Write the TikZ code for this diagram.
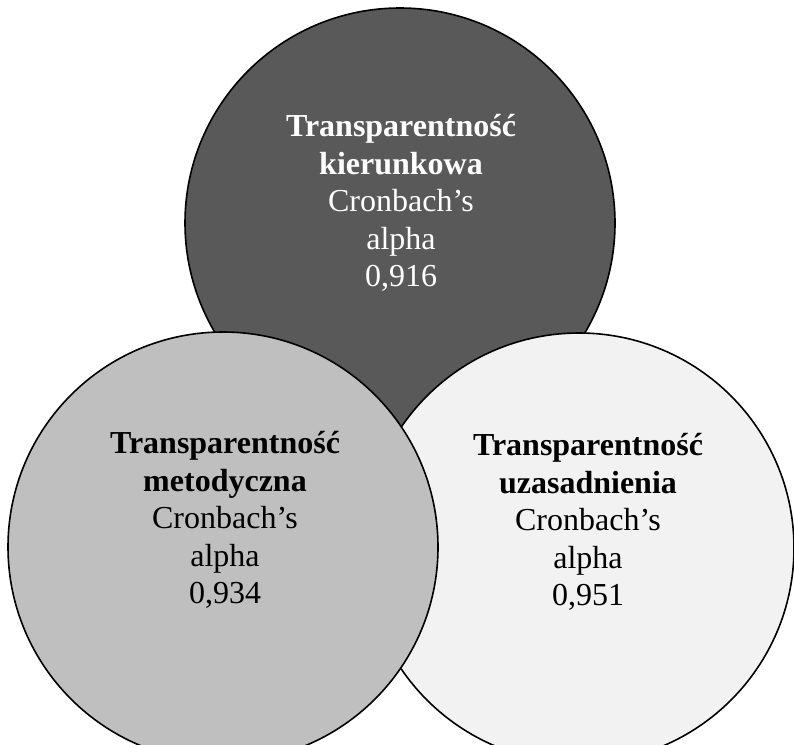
\documentclass[tikz,border=0pt]{standalone}
\usepackage{fontspec}
\setmainfont{Liberation Serif}
\definecolor{kiercol}{HTML}{595959}
\definecolor{metcol}{HTML}{BFBFBF}
\definecolor{uzacol}{HTML}{F2F2F2}
\tikzset{
  venn/.style={circle,draw=black,line width=1.6pt,minimum size=430pt,inner sep=0pt},
  venntext/.style={align=center,font=\fontsize{32}{37.5}\selectfont}
}
\begin{document}
\begin{tikzpicture}[x=1pt,y=-1pt]
\useasboundingbox (0,0) rectangle (794,744);
% Top circle: kierunkowa
\node[venn,fill=kiercol] (kier) at (400,223) {};
% Right circle: uzasadnienia (drawn before the left one)
\node[venn,fill=uzacol] (uza) at (579,548) {};
% Left circle: metodyczna
\node[venn,fill=metcol] (met) at (223,547) {};
% Labels
\node[venntext,text=white] (kiertxt) at (401,203) {\textbf{Transparentność}\\\textbf{kierunkowa}\\Cronbach’s\\alpha\\0,916};
\node[venntext] (mettxt) at (225,520) {\textbf{Transparentność}\\\textbf{metodyczna}\\Cronbach’s\\alpha\\0,934};
\node[venntext] (uzatxt) at (588,522) {\textbf{Transparentność}\\\textbf{uzasadnienia}\\Cronbach’s\\alpha\\0,951};
\end{tikzpicture}
\end{document}
